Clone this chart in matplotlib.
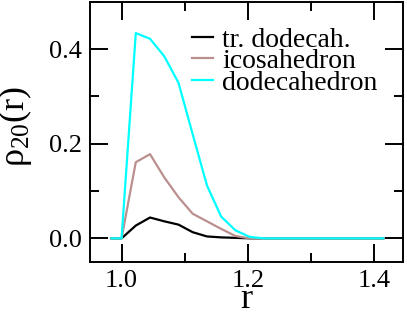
import matplotlib
matplotlib.use("Agg")
import matplotlib.pyplot as plt
from matplotlib.ticker import MultipleLocator

# values
r = [0.984, 1.0, 1.0225, 1.045, 1.0675, 1.09, 1.1125, 1.135, 1.1575, 1.18,
     1.2025, 1.225, 1.2475, 1.27, 1.2925, 1.315, 1.3375, 1.36, 1.3825, 1.414]
tr_dodecah = [0.0, 0.0, 0.027, 0.044, 0.036, 0.029, 0.013, 0.004, 0.002, 0.001,
              0.0, 0.0, 0.0, 0.0, 0.0, 0.0, 0.0, 0.0, 0.0, 0.0]
icosahedron = [0.0, 0.0, 0.161, 0.178, 0.129, 0.087, 0.052, 0.036, 0.020, 0.005,
               0.0, 0.0, 0.0, 0.0, 0.0, 0.0, 0.0, 0.0, 0.0, 0.0]
dodecahedron = [0.0, 0.0, 0.434, 0.422, 0.385, 0.329, 0.22, 0.112, 0.046, 0.017,
                0.003, 0.0, 0.0, 0.0, 0.0, 0.0, 0.0, 0.0, 0.0, 0.0]

labels = ["tr. dodecah.", "icosahedron", "dodecahedron"]
colors = ["black", "#bc8f8f", "#00ffff"]

plt.rcParams["font.family"] = ["Liberation Serif", "DejaVu Serif"]
plt.rcParams["mathtext.fontset"] = "custom"
plt.rcParams["mathtext.rm"] = "Liberation Serif"

fig = plt.figure(figsize=(4.07, 3.13), dpi=100)
ax = fig.add_axes([0.221, 0.163, 0.769, 0.831])

for y, lab, c in zip([tr_dodecah, icosahedron, dodecahedron], labels, colors):
    ax.plot(r, y, color=c, lw=1.6, label=lab)

ax.set_xlim(0.95, 1.445)
ax.set_ylim(-0.05, 0.5)
ax.xaxis.set_major_locator(MultipleLocator(0.2))
ax.xaxis.set_minor_locator(MultipleLocator(0.1))
ax.yaxis.set_major_locator(MultipleLocator(0.2))
ax.yaxis.set_minor_locator(MultipleLocator(0.1))
ax.xaxis.set_major_formatter(plt.FormatStrFormatter("%.1f"))
ax.yaxis.set_major_formatter(plt.FormatStrFormatter("%.1f"))

ax.tick_params(which="both", direction="in", top=True, right=True, width=1.4,
               labelsize=19)
ax.tick_params(which="major", length=13, pad=6)
ax.tick_params(which="minor", length=6.5)
for s in ax.spines.values():
    s.set_linewidth(1.4)

ax.set_xlabel("r", fontsize=26, labelpad=-7)
ax.set_ylabel(r"ρ$\mathregular{_{20}}$(r)", fontsize=26)
ax.yaxis.set_label_coords(-0.178, 0.52)

ax.legend(loc="upper left", frameon=False, fontsize=20, handlelength=0.76,
          handletextpad=0.32, labelspacing=-0.14, borderpad=0, borderaxespad=0,
          bbox_to_anchor=(0.326, 0.903))

fig.savefig("out.png", dpi=100)
